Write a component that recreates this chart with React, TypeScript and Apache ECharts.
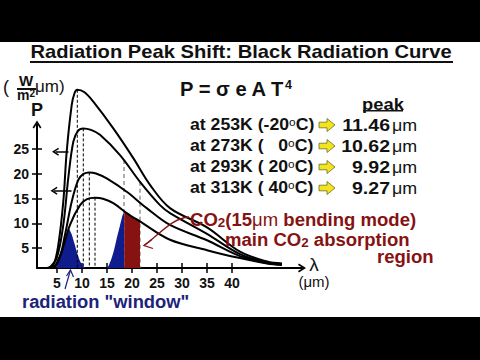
import React, { useEffect, useRef } from "react";
import * as echarts from "echarts";

// ---- data ----
const xTicks = [5, 10, 15, 20, 25, 30, 35, 40];
const yTicks = [5, 10, 15, 20, 25];

// [wavelength µm, power]
const curve313 = [[3.0, 1], [4.26, 1.6], [5.26, 5.66], [6.26, 14.4], [6.94, 24.5], [7.94, 33.9], [8.5, 36.3], [9.06, 37.0], [10.5, 36.5], [12.26, 34.6], [16.26, 29.2], [20.26, 23.2], [23.6, 17.8], [27.6, 13.1], [35, 9.2], [41.6, 4.3], [47, 2.3], [50, 1.9]];
const curve293 = [[3.4, 1], [4.94, 3.0], [6.26, 9.7], [7.26, 19.2], [8.26, 26.5], [9.2, 28.7], [10.26, 29.2], [11.8, 28.9], [13.6, 27.9], [17.6, 23.8], [21.6, 18.4], [25.6, 13.7], [27.6, 12.1], [35, 7.9], [41.6, 3.8], [47, 2.1], [50, 1.8]];
const curve273 = [[3.8, 1], [5.26, 2.3], [6.6, 7.7], [7.94, 14.4], [9.26, 18.8], [10.3, 20.0], [11.46, 20.3], [12.8, 20.1], [14.94, 19.1], [18.94, 16.4], [22.94, 13.1], [27.6, 9.7], [35, 6.6], [41.6, 3.4], [47, 2.0], [50, 1.7]];
const curve253 = [[4.2, 1], [4.6, 1.3], [5.94, 4.3], [7.6, 9.7], [9.6, 13.7], [11, 14.9], [12.6, 15.2], [14.2, 15.0], [16.26, 14.1], [18.94, 12.1], [21.6, 10.4], [27.6, 6.7], [35, 4.6], [41.6, 3.0], [47, 1.9], [50, 1.6]];

const peakLambda = [9.06, 10.26, 11.46, 12.6];
const peakPower = [37.0, 29.2, 20.3, 15.2];

const windowBlue = [[5, 1], [5, 2.2], [5.94, 4.3], [6.7, 7.0], [7.3, 9.1], [7.9, 7.9], [8.5, 5.9], [9.1, 3.8], [9.7, 2.2], [10.3, 1.3], [10.9, 1], [14.9, 1], [15.4, 1.6], [15.94, 3.0], [16.5, 5.0], [17.0, 7.2], [17.6, 9.6], [18.1, 11.6], [18.45, 12.35]];
const co2Red = [[18.45, 12.35], [18.94, 12.1], [20.3, 11.2], [21.6, 10.4]];

const co2EdgeX = [18.4, 21.6];
const co2EdgeTop = [22.8, 18.4];

const leftArrowY = [31.6, 24.5, 16.6];
const leftArrowTail = [7.0, 7.3, 7.9];
const leftArrowTip = [4.7, 4.7, 4.4];

const rowTemps = ["at 253K (-20", "at 273K (   0", "at 293K ( 20", "at 313K ( 40"];
const rowPeaks = ["11.46", "10.62", "9.92", "9.27"];

// ---- style ----
const FONT = '"Liberation Sans", Arial, Helvetica, sans-serif';
const BLUE = "#0e1c8e";
const RED = "#861212";
const NAVY = "#1b2478";
const CHEVRON = "path://M5,0 L10,8 L8.4,9 L5,3.4 L1.6,9 L0,8 Z";

const rowY = [125, 146, 167, 188];

function txt(x: number, y: number, text: string, o: any = {}) {
  return {
    type: "text",
    x,
    y,
    scaleX: o.sx ?? 1,
    z: 100,
    silent: true,
    style: {
      text,
      fill: o.color ?? "#111",
      fontFamily: FONT,
      fontWeight: o.weight ?? "bold",
      fontSize: o.size ?? 16,
      align: o.align ?? "left",
      textAlign: o.align ?? "left",
      verticalAlign: "middle",
      textVerticalAlign: "middle",
      rich: o.rich,
    },
  };
}

function buildOption() {
  const graphic: any[] = [
    { type: "rect", shape: { x: 0, y: 0, width: 480, height: 42 }, style: { fill: "#000" }, z: 100, silent: true },
    { type: "rect", shape: { x: 0, y: 317, width: 480, height: 43 }, style: { fill: "#000" }, z: 100, silent: true },
    txt(241, 52, "Radiation Peak Shift: Black Radiation Curve", { size: 18, align: "center", sx: 1.12 }),
    { type: "rect", shape: { x: 30, y: 61, width: 423, height: 2 }, style: { fill: "#111" }, z: 100, silent: true },
    txt(180, 88, "P = σ e A T{s|4}", {
      size: 21,
      sx: 0.96,
      rich: { s: { fontFamily: FONT, fontWeight: "bold", fontSize: 13, verticalAlign: "top", fill: "#111" } },
    }),
    txt(383, 104, "peak", { size: 17, align: "center", sx: 1.08 }),
    { type: "rect", shape: { x: 363, y: 110, width: 40, height: 1.6 }, style: { fill: "#111" }, z: 100, silent: true },
  ];

  rowTemps.forEach((t, i) => {
    const y = rowY[i];
    graphic.push(
      txt(190, y, t + "{s|o}C)", {
        size: 16.5,
        sx: 1.07,
        rich: { s: { fontFamily: FONT, fontWeight: "normal", fontSize: 11, verticalAlign: "top", fill: "#111" } },
      })
    );
    graphic.push({
      type: "polygon",
      z: 100,
      silent: true,
      shape: {
        points: [[319, y - 2.8], [327, y - 2.8], [327, y - 6.5], [335, y], [327, y + 6.5], [327, y + 2.8], [319, y + 2.8]],
      },
      style: { fill: "#f3e41c", stroke: "#6b6b2a", lineWidth: 0.8 },
    });
    graphic.push(txt(390, y, rowPeaks[i], { size: 17, align: "right", sx: 1.15 }));
    graphic.push(txt(392, y, "μm", { size: 17, weight: "normal", sx: 1.05 }));
  });

  const co2Rich = {
    sub: { fontFamily: FONT, fontWeight: "bold", fontSize: 13, verticalAlign: "bottom", fill: RED },
    n: { fontFamily: FONT, fontWeight: "normal", fontSize: 18, fill: RED },
  };
  graphic.push(txt(190, 220, "CO{sub|2}(15{n|μm} bending mode)", { size: 18, color: RED, sx: 1.03, rich: co2Rich }));
  graphic.push(txt(225, 240, "main CO{sub|2} absorption", { size: 18, color: RED, sx: 1.03, rich: co2Rich }));
  graphic.push(txt(377, 257, "region", { size: 18, color: RED, sx: 1.03 }));

  // red pointer arrow
  graphic.push({
    type: "bezierCurve",
    z: 100,
    silent: true,
    shape: { x1: 189, y1: 217, x2: 144, y2: 245.5, cpx1: 172, cpy1: 218, cpx2: 160, cpy2: 234 },
    style: { stroke: RED, lineWidth: 1.3, fill: "none" },
  });
  graphic.push({
    type: "polyline",
    z: 100,
    silent: true,
    shape: { points: [[152, 239.5], [144, 245.5], [153, 248.5]] },
    style: { stroke: RED, lineWidth: 1.3, fill: "none" },
  });

  graphic.push(txt(22, 302, 'radiation "window"', { size: 18, color: NAVY, sx: 1.02 }));
  graphic.push({
    type: "polyline",
    z: 100,
    silent: true,
    shape: { points: [[65, 289], [70.5, 270]] },
    style: { stroke: NAVY, lineWidth: 1.2, fill: "none" },
  });
  graphic.push({
    type: "polyline",
    z: 100,
    silent: true,
    shape: { points: [[66.5, 276], [70.5, 270], [73.5, 277]] },
    style: { stroke: NAVY, lineWidth: 1.2, fill: "none" },
  });

  // y unit label
  graphic.push(txt(3, 87, "(", { size: 18, weight: "normal" }));
  graphic.push(txt(26, 80, "W", { size: 15, align: "center" }));
  graphic.push({ type: "rect", shape: { x: 17, y: 88, width: 19, height: 2 }, style: { fill: "#111" }, z: 100, silent: true });
  graphic.push(
    txt(26, 95, "m{s|2}", {
      size: 14,
      align: "center",
      rich: { s: { fontFamily: FONT, fontWeight: "bold", fontSize: 10, verticalAlign: "top", fill: "#111" } },
    })
  );
  graphic.push(txt(35, 86, "μm)", { size: 17, weight: "normal" }));
  graphic.push(txt(37, 110, "P", { size: 18, align: "center" }));
  graphic.push(txt(314, 264, "λ", { size: 19, align: "center", weight: "normal" }));
  graphic.push(txt(314, 281, "(μm)", { size: 15, align: "center", weight: "normal" }));

  const tickFont = { fontFamily: FONT, fontWeight: "bold", fontSize: 14, color: "#111" };

  const curves = [curve313, curve293, curve273, curve253];

  const series: any[] = [
    ...co2EdgeX.map((x, i) => ({
      type: "line",
      data: [[x, co2EdgeTop[i]], [x, 1]],
      symbol: "none",
      silent: true,
      z: 1,
      lineStyle: { color: "#7a7a7a", width: 1.2, type: [4, 3] },
    })),
    {
      type: "line",
      data: windowBlue,
      symbol: "none",
      smooth: 0.15,
      silent: true,
      z: 2,
      lineStyle: { width: 0 },
      areaStyle: { color: BLUE, opacity: 1, origin: "start" },
    },
    {
      type: "line",
      data: co2Red,
      symbol: "none",
      silent: true,
      z: 2,
      lineStyle: { width: 0 },
      areaStyle: { color: RED, opacity: 1, origin: "start" },
    },
    ...peakLambda.map((x, i) => ({
      type: "line",
      data: [[x, peakPower[i]], [x, 1]],
      symbol: "none",
      silent: true,
      clip: false,
      z: 3,
      lineStyle: { color: "#000", width: 1, type: [3, 2] },
    })),
    ...curves.map((c, i) => ({
      type: "line",
      data: c,
      symbol: "none",
      smooth: 0.35,
      silent: true,
      clip: false,
      z: 4,
      lineStyle: { color: "#000", width: 2 },
      markLine:
        i === 0
          ? {
              silent: true,
              symbol: ["none", CHEVRON],
              symbolSize: [8, 7],
              label: { show: false },
              lineStyle: { color: "#000", width: 1.5, type: "solid" },
              data: leftArrowY.map((y, k) => [{ coord: [leftArrowTail[k], y] }, { coord: [leftArrowTip[k], y] }]),
            }
          : undefined,
    })),
  ];

  return {
    animation: false,
    backgroundColor: "#fff",
    grid: { left: 37, right: 178, top: 124.45, bottom: 92 },
    xAxis: [
      {
        type: "value",
        min: 1,
        max: 54,
        splitLine: { show: false },
        axisLine: { show: true, onZero: false, symbol: ["none", CHEVRON], symbolSize: [9, 8], lineStyle: { color: "#000", width: 2 } },
        axisTick: { show: true, inside: false, length: 5, customValues: xTicks, lineStyle: { color: "#000", width: 1.5 } },
        axisLabel: { show: true, customValues: xTicks, margin: 8, ...tickFont },
      },
      {
        type: "value",
        min: 1,
        max: 54,
        position: "bottom",
        splitLine: { show: false },
        axisLine: { show: false },
        axisTick: { show: true, inside: true, length: 5, customValues: xTicks, lineStyle: { color: "#000", width: 1.5 } },
        axisLabel: { show: false },
      },
    ],
    yAxis: [
      {
        type: "value",
        min: 1,
        max: 30,
        splitLine: { show: false },
        axisLine: { show: true, onZero: false, symbol: ["none", CHEVRON], symbolSize: [9, 8], lineStyle: { color: "#000", width: 2 } },
        axisTick: { show: true, inside: false, length: 5, customValues: yTicks, lineStyle: { color: "#000", width: 1.5 } },
        axisLabel: { show: true, customValues: yTicks, margin: 8, ...tickFont },
      },
      {
        type: "value",
        min: 1,
        max: 30,
        position: "left",
        splitLine: { show: false },
        axisLine: { show: false },
        axisTick: { show: true, inside: true, length: 5, customValues: yTicks, lineStyle: { color: "#000", width: 1.5 } },
        axisLabel: { show: false },
      },
    ],
    series,
    graphic,
  };
}

export default function App() {
  const ref = useRef<HTMLDivElement>(null);
  useEffect(() => {
    if (!ref.current) return;
    const chart = echarts.init(ref.current, null, { renderer: "svg" });
    chart.setOption(buildOption() as any);
    return () => chart.dispose();
  }, []);
  return <div ref={ref} style={{ position: "fixed", left: 0, top: 0, width: 480, height: 360 }} />;
}
